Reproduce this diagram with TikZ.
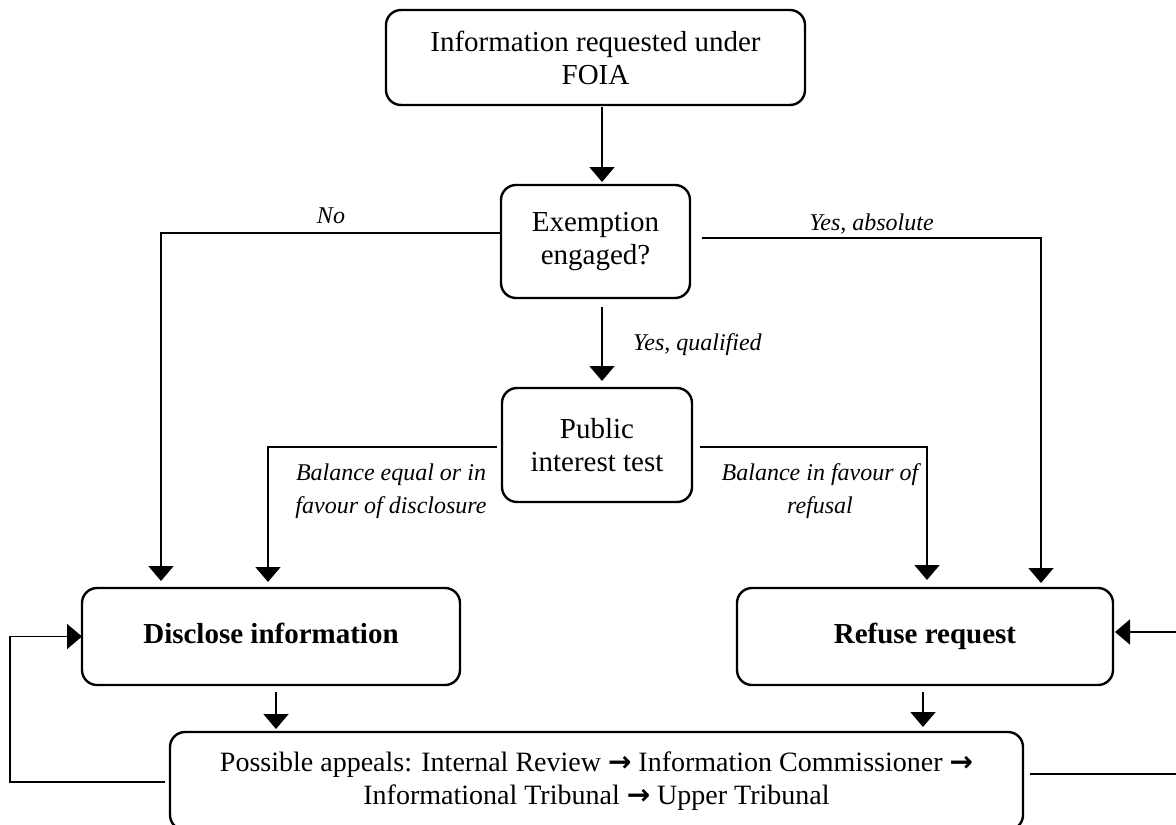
\documentclass[tikz,border=0pt]{standalone}
\usepackage{fontspec}
\setmainfont{Liberation Serif}
\newfontfamily\arrfont{DejaVu Sans}
\newcommand{\thickarr}{{\arrfont\bfseries\fontsize{28}{33}\selectfont →}}
\usetikzlibrary{arrows.meta,calc}
\begin{document}
\begin{tikzpicture}[x=1pt,y=-1pt,
  box/.style={draw, line width=2.4pt, rounded corners=15pt, align=center,
    inner sep=0pt, outer sep=0pt, font=\fontsize{29}{33}\selectfont},
  boldbox/.style={box, minimum height=97pt, text height=20pt, text depth=6pt,
    font=\fontsize{29}{33}\selectfont\bfseries},
  conn/.style={line width=1.8pt},
  arr/.style={conn, -{Triangle[length=15pt,width=25pt]}},
  lbl/.style={font=\fontsize{24}{33}\selectfont\itshape, align=center, inner sep=0pt}]
\useasboundingbox (0,0) rectangle (1176,825);
\clip (0,0) rectangle (1176,825);

\node[box, minimum width=419pt, minimum height=95pt] (req) at (595.5,57.5)
  {Information requested under\\FOIA};
\node[box, minimum width=189pt, minimum height=113pt] (exempt) at (595.5,241.5)
  {Exemption\\engaged?};
\node[box, minimum width=190pt, minimum height=114pt] (pit) at (597,445)
  {Public\\interest test};
\node[boldbox, minimum width=378pt] (disc) at (271,636.5) {Disclose information};
\node[boldbox, minimum width=376pt] (ref) at (925,636.5) {Refuse request};
\node[box, minimum width=853pt, minimum height=98pt,
  font=\fontsize{28}{33}\selectfont] (appeal) at (596.5,781)
  {Possible appeals: Internal Review \thickarr{} Information Commissioner \thickarr\\Informational Tribunal \thickarr{} Upper Tribunal};

% labels
\node[lbl] (qlab) at (633,350) [anchor=base west] {Yes, qualified};
\node[lbl] (eqlab) at (391,491) {Balance equal or in\\favour of disclosure};
\node[lbl] (rflab) at (820,491) {Balance in favour of\\refusal};

% connectors
\draw[arr, shorten <=2pt, shorten >=3pt] ($(req.south)+(6.5,0)$) -- ($(exempt.north)+(6.5,0)$);
\draw[arr, shorten >=7pt] ($(exempt.west)+(0,-8.5)$) -| ($(disc.north)+(-110,0)$)
  node[lbl, pos=0.25, anchor=base, yshift=10pt] (nolab) {No};
\draw[arr, shorten <=12pt, shorten >=5pt] ($(exempt.east)+(0,-3.5)$) -| ($(ref.north)+(116,0)$)
  node[lbl, pos=0.25, anchor=base, xshift=6pt, yshift=8pt] (yalab) {Yes, absolute};
\draw[arr, shorten <=9pt, shorten >=7pt] ($(exempt.south)+(6.5,0)$) -- ($(pit.north)+(5,0)$);
\draw[arr, shorten <=5pt, shorten >=6pt] ($(pit.west)+(0,2)$) -| ($(disc.north)+(-3,0)$);
\draw[arr, shorten <=8pt, shorten >=8pt] ($(pit.east)+(0,2)$) -| ($(ref.north)+(2,0)$);

\coordinate (d1) at ($(disc.south)+(5,0)$);
\coordinate (r1) at ($(ref.south)+(-2,0)$);
\draw[arr, shorten <=7pt, shorten >=3pt] (d1) -- (d1 |- appeal.north);
\draw[arr, shorten <=7pt, shorten >=5pt] (r1) -- (r1 |- appeal.north);

\draw[arr, shorten <=5pt] ($(appeal.west)+(0,1)$) -- ++(-160,0) |- (disc.west);
\draw[arr, shorten <=7pt, shorten >=2pt] ($(appeal.east)+(0,-7)$) -- ++(167,0) |- ($(ref.east)+(0,-4.5)$);
\end{tikzpicture}
\end{document}
